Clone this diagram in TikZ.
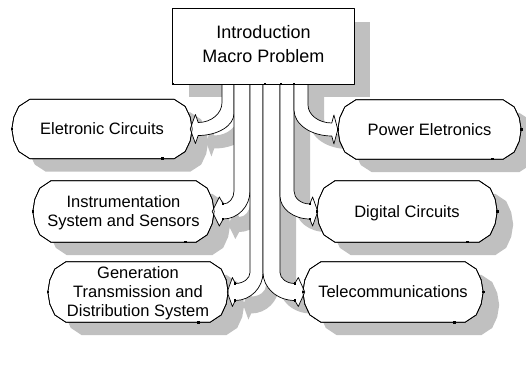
\documentclass[tikz,border=0pt]{standalone}
\usepackage{fontspec}
\setmainfont{Liberation Sans}
\usetikzlibrary{calc}
\pgfdeclarelayer{shadowlayer}
\pgfdeclarelayer{shapelayer}
\pgfsetlayers{shadowlayer,shapelayer,main}
\definecolor{shd}{RGB}{192,192,192}
\newcommand\ox{0}
\newcommand\oy{0}
% rounded-octagon "pill" outline around a node
\newcommand\drawpill[2]{%
 \path[#2] let \p1=($(#1.north west)+(\ox,\oy)$), \p2=($(#1.south east)+(\ox,\oy)$), \n1={\y1-\y2} in
 ({\x1+18},\y1) -- ({\x2-18},\y1) -- ({\x2-7},{\y1-0.12*\n1}) -- ({\x2-2},{\y1-0.3*\n1})
 -- (\x2,{\y1-0.5*\n1}) -- ({\x2-2},{\y1-0.7*\n1}) -- ({\x2-7},{\y1-0.88*\n1}) -- ({\x2-18},\y2)
 -- ({\x1+18},\y2) -- ({\x1+7},{\y1-0.88*\n1}) -- ({\x1+2},{\y1-0.7*\n1}) -- (\x1,{\y1-0.5*\n1})
 -- ({\x1+2},{\y1-0.3*\n1}) -- ({\x1+7},{\y1-0.12*\n1}) -- cycle;}
% fat bent arrow from the bottom of (top) to an anchor of a node
% #1 anchor, #2 inner band x, #3 outer band x, #4 half shaft, #5 inner drop, #6 outer drop,
% #7 head length (signed), #8 tip offset, #9 style
\newcommand\drawarrow[9]{%
 \path[#9] let \p1=($(#1)+(\ox,\oy)$), \p2=($(top.south)+(\ox,\oy)$), \n1={\x1+(#8)}, \n2={\n1+(#7)},
 \n3={#2+\ox}, \n4={#3+\ox}, \n5={\n2+0.35*(\n1-\n2)} in
 (\n3,\y2) -- (\n3,{\y1+#4+#5}) .. controls +(0,{-0.55*#5}) and +({0.55*(\n3-\n2)},0) .. (\n2,{\y1+#4})
 -- (\n5,{\y1+14.5}) -- (\n1,\y1) -- (\n5,{\y1-14.5}) -- (\n2,{\y1-#4})
 .. controls +({0.55*(\n4-\n2)},0) and +(0,{-0.55*#6}) .. (\n4,{\y1-#4+#6}) -- (\n4,\y2) -- cycle;}
\newcommand\cpt[1]{\fill[black,shift={#1}] (-1.3,-1.3) rectangle (1.3,1.3);}
\tikzset{
 pillnode/.style 2 args={minimum width=#1, minimum height=#2, inner sep=0pt, align=center,
   text depth=0pt, font=\fontsize{16.5pt}{19pt}\selectfont},
 topnode/.style={minimum width=181pt, minimum height=75pt, inner sep=0pt, align=center,
   text depth=6pt, font=\fontsize{18pt}{24pt}\selectfont},
 shp/.style={fill=white, draw=black, line width=0.7pt, line join=round},
 outl/.style={draw=black, line width=0.7pt, line join=round},
 shdw/.style={fill=shd}
}
\begin{document}
\begin{tikzpicture}[x=1pt,y=1pt]
\useasboundingbox (0,0) rectangle (526,369);
\node[topnode] (top) at (263.5,322.5) {Introduction\\Macro Problem};
\node[pillnode={180pt}{59pt}] (elet) at (102,240) {Eletronic Circuits};
\node[pillnode={183pt}{59pt}] (power) at (429.5,239.5) {Power Eletronics};
\node[pillnode={181pt}{61pt}] (instr) at (123.5,157.5) {Instrumentation\\System and Sensors};
\node[pillnode={180pt}{61pt}] (digital) at (407,157.5) {Digital Circuits};
\node[pillnode={180pt}{60pt}] (gen) at (138,77) {Generation\\Transmission and\\Distribution System};
\node[pillnode={180pt}{60pt}] (tele) at (393,77) {Telecommunications};

\begin{pgfonlayer}{shadowlayer}
\renewcommand\ox{16}\renewcommand\oy{-13}
\fill[shd] ($(top.south west)+(\ox,\oy)$) rectangle ($(top.north east)+(\ox,\oy)$);
\foreach \nm in {elet,power,instr,digital,gen,tele}{\drawpill{\nm}{shdw}}
\drawarrow{elet.east}{222}{234}{6.5}{20}{22}{8}{-2}{shdw}
\drawarrow{instr.east}{234}{250}{7.5}{13}{28}{11}{-2}{shdw}
\drawarrow{gen.east}{250}{263}{8.5}{11}{28}{8}{-1}{shdw}
\drawarrow{tele.west}{280}{263}{8.5}{11}{28}{-10}{2}{shdw}
\drawarrow{digital.west}{294}{280}{7.5}{13}{23}{-8}{1}{shdw}
\drawarrow{power.west}{308}{294}{6.5}{18}{26}{-6}{0}{shdw}
\end{pgfonlayer}

\begin{pgfonlayer}{shapelayer}
\foreach \nm in {elet,power,instr,digital,gen,tele}{\drawpill{\nm}{shp}}
\drawarrow{elet.east}{222}{234}{6.5}{20}{22}{8}{-2}{shp}
\drawarrow{instr.east}{234}{250}{7.5}{13}{28}{11}{-2}{shp}
\drawarrow{gen.east}{250}{263}{8.5}{11}{28}{8}{-1}{shp}
\drawarrow{tele.west}{280}{263}{8.5}{11}{28}{-10}{2}{shp}
\drawarrow{digital.west}{294}{280}{7.5}{13}{23}{-8}{1}{shp}
\drawarrow{power.west}{308}{294}{6.5}{18}{26}{-6}{0}{shp}
\foreach \nm in {elet,power,instr,digital,gen,tele}{\drawpill{\nm}{outl}}
\draw[shp] (top.south west) rectangle (top.north east);
\end{pgfonlayer}

% connection points
\cpt{(top.south west)}
\cpt{(265,285)} \cpt{(281,285)} \cpt{(294,285)}
\cpt{(elet.west)} \cpt{($(elet.south east)+(-30,0)$)}
\cpt{(power.west)} \cpt{(power.east)} \cpt{($(power.south east)+(-29,0)$)}
\cpt{(instr.west)} \cpt{($(instr.south east)+(-29,0)$)}
\cpt{(digital.west)} \cpt{(digital.east)} \cpt{($(digital.south east)+(-30,0)$)}
\cpt{(gen.west)} \cpt{($(gen.south east)+(-30,0)$)}
\cpt{(tele.west)} \cpt{(tele.east)} \cpt{($(tele.south east)+(-29,0)$)}
\cpt{(223,165)} \cpt{(223,150)}
\cpt{(235,85.5)} \cpt{(235,68.5)}
\cpt{(295,85.5)} \cpt{(295,68.5)}
\cpt{(310,165)} \cpt{(310,150)}
\end{tikzpicture}
\end{document}
